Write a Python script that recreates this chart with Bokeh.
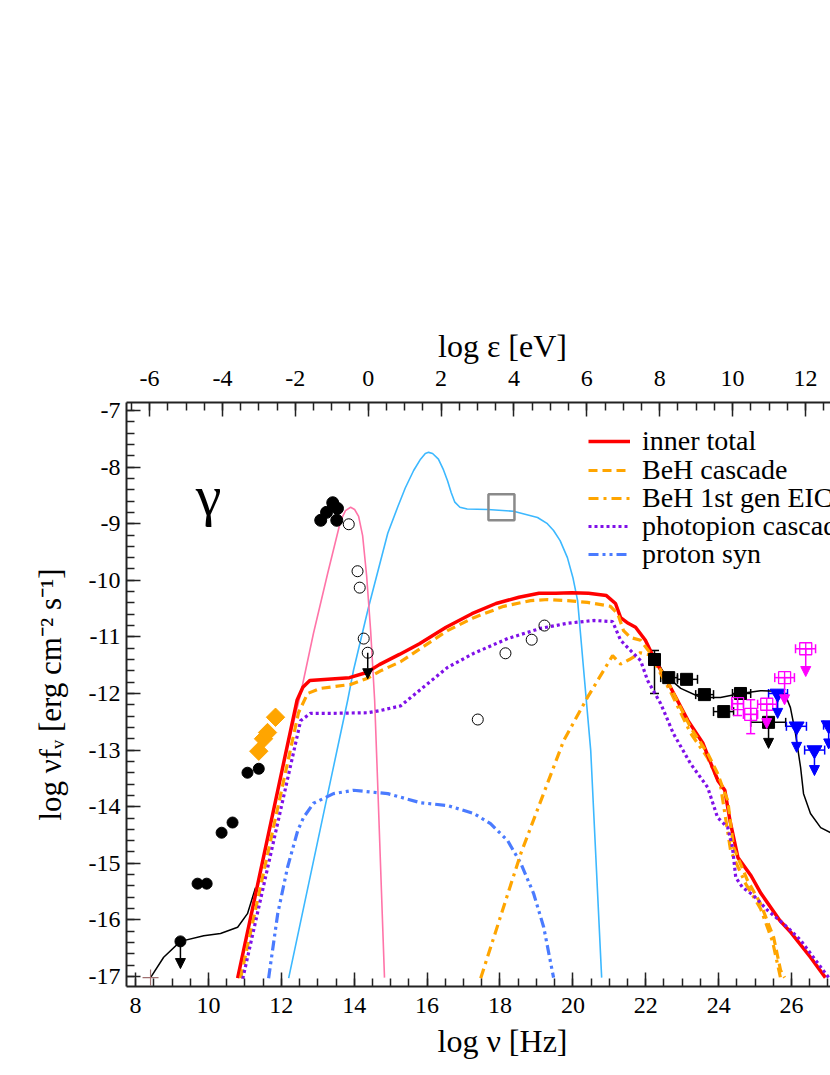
from bokeh.plotting import figure
from bokeh.models import (Range1d, LinearAxis, SingleIntervalTicker, Legend, LegendItem,
                          Arrow, NormalHead, Whisker, TeeHead, ColumnDataSource, Label,
                          CustomJSTickFormatter)
from bokeh.embed import file_html
from bokeh.resources import INLINE
import math

FONT = "Liberation Serif"
LOG_H = -14.383  # log10(h / eV s): log eps = log nu + LOG_H

# ---------------- model curves ----------------
total_x = [10.80, 12.43, 12.59, 12.78, 13.87, 14.34, 14.69, 15.24, 15.79, 16.52, 17.23, 17.89, 18.52, 19.07,
           19.53, 19.97, 20.43, 20.92, 21.17, 21.31, 21.52, 21.72, 21.99, 22.26, 22.62, 23.16, 23.57,
           23.79, 23.98, 24.17, 24.31, 24.53, 24.89, 25.16, 25.68, 25.98, 26.52, 26.93]
total_y = [-17.03, -12.12, -11.89, -11.77, -11.72, -11.63, -11.49, -11.31, -11.12, -10.83, -10.59, -10.41,
           -10.30, -10.23, -10.23, -10.22, -10.23, -10.27, -10.41, -10.66, -10.76, -10.83, -11.06, -11.42,
           -11.82, -12.48, -12.88, -13.24, -13.54, -13.71, -14.24, -14.90, -15.22, -15.53, -16.01, -16.22,
           -16.66, -17.02]

beh_x = [10.88, 12.47, 12.72, 13.08, 13.90, 14.37, 14.72, 15.27, 15.90, 16.56, 17.28, 18.10, 18.84, 19.31,
         19.85, 20.40, 21.03, 21.23, 21.39, 21.58, 21.86, 22.21, 22.68, 23.23, 23.70, 23.97, 24.14, 24.25,
         24.41, 24.79, 25.15, 25.51, 25.70, 25.81]
beh_y = [-17.03, -12.34, -12.00, -11.91, -11.84, -11.73, -11.60, -11.44, -11.17, -10.89, -10.66, -10.46,
         -10.36, -10.34, -10.36, -10.39, -10.46, -10.59, -10.89, -11.01, -11.06, -11.36, -11.89, -12.60,
         -13.06, -13.41, -13.71, -13.89, -14.72, -15.30, -15.71, -16.31, -16.89, -17.02]

eic_x = [17.47, 18.57, 19.75, 20.40, 21.09, 21.31, 21.55, 21.85, 22.13, 22.68, 23.23, 23.70, 24.05, 24.33,
         24.74, 25.15, 25.48, 25.70]
eic_y = [-17.03, -14.83, -12.83, -12.07, -11.33, -11.48, -11.40, -11.28, -11.32, -11.97, -12.70, -13.14,
         -13.62, -14.78, -15.36, -15.80, -16.38, -17.03]

pp_x = [10.94, 12.53, 12.80, 13.43, 14.37, 14.72, 15.27, 15.63, 16.56, 17.28, 18.21, 19.11, 19.85, 20.57,
        21.09, 21.31, 21.58, 21.86, 22.05, 22.41, 22.76, 23.23, 23.70, 23.97, 24.25, 24.38, 24.47, 24.66,
        24.96, 25.34, 25.89, 26.25, 27.02]
pp_y = [-17.04, -12.48, -12.35, -12.35, -12.34, -12.30, -12.22, -12.03, -11.54, -11.29, -11.03, -10.85,
        -10.76, -10.71, -10.73, -11.06, -11.24, -11.42, -11.77, -12.18, -12.71, -13.24, -13.66, -14.19,
        -14.37, -14.72, -15.25, -15.43, -15.57, -15.83, -16.13, -16.36, -17.02]

ps_x = [11.65, 11.90, 12.17, 12.45, 12.61, 12.88, 13.43, 13.98, 14.92, 15.82, 16.56, 17.28, 17.74, 18.21,
        18.57, 18.92, 19.20, 19.47]
ps_y = [-17.03, -15.89, -15.07, -14.42, -14.19, -13.94, -13.77, -13.71, -13.77, -13.93, -13.98, -14.12,
        -14.30, -14.60, -15.00, -15.53, -16.13, -17.02]

pink_x = [12.20, 12.53, 12.88, 13.27, 13.63, 13.76, 13.90, 14.01, 14.12, 14.23, 14.34, 14.45, 14.56,
          14.64, 14.83]
pink_y = [-12.87, -12.00, -10.94, -9.88, -8.94, -8.77, -8.71, -8.75, -8.87, -9.21, -9.92, -10.89, -12.12,
          -13.54, -17.02]

ext_x = [12.20, 13.35, 13.82, 13.98, 14.39, 14.92, 15.19, 15.40, 15.63, 15.82, 15.95, 16.04, 16.15, 16.31,
         16.45, 16.56, 16.66, 16.76, 16.90, 17.10, 17.66, 18.37, 19.03, 19.30, 19.47, 19.65, 19.85, 20.00,
         20.13, 20.29, 20.49, 20.79]
ext_y = [-17.03, -13.54, -12.12, -11.59, -10.48, -9.17, -8.71, -8.37, -8.06, -7.86, -7.76, -7.74, -7.76,
         -7.86, -8.05, -8.24, -8.45, -8.62, -8.71, -8.74, -8.75, -8.78, -8.89, -9.00, -9.12, -9.30, -9.60,
         -9.95, -10.36, -11.54, -13.01, -17.02]

outer_lo_x = [8.41, 8.77, 9.23, 9.87, 10.33, 10.80, 11.07, 11.29]
outer_lo_y = [-17.02, -16.66, -16.38, -16.28, -16.24, -16.13, -15.89, -15.43]
outer_hi_x = [22.05, 22.54, 22.96, 23.51, 24.05, 24.60, 25.15, 25.62, 25.84, 25.97, 26.11, 26.25, 26.33,
              26.52, 26.80, 27.07]
outer_hi_y = [-11.15, -11.68, -11.91, -12.07, -12.07, -12.00, -11.95, -11.96, -12.04, -12.25, -12.71,
              -13.31, -13.77, -14.12, -14.37, -14.46]

# ---------------- data points ----------------
radio_x = [9.70, 9.95, 10.36, 10.66, 11.07, 11.38]
radio_y = [-15.36, -15.36, -14.46, -14.28, -13.40, -13.33]
radio_ul_x = [9.23]
radio_ul_y = [-16.38]
radio_ul_tip = [-16.86]

mm_x = [11.38, 11.51, 11.62, 11.84]
mm_y = [-13.02, -12.80, -12.69, -12.42]

ir_x = [13.08, 13.24, 13.52, 13.41, 13.54]
ir_y = [-8.94, -8.80, -8.94, -8.63, -8.73]

open_x = [13.85, 14.09, 14.15, 14.26, 14.37, 17.39, 18.15, 18.87, 19.22]
open_y = [-9.01, -9.84, -10.13, -11.03, -11.28, -12.46, -11.29, -11.05, -10.80]
open_ul_x = [14.37]
open_ul_y = [-11.28]
open_ul_tip = [-11.74]

box_x = [18.04]
box_y = [-8.71]

lat_x = [22.24, 22.63, 23.12, 23.61, 24.14, 24.60]
lat_y = [-11.40, -11.72, -11.75, -12.02, -12.32, -12.00]
lat_xlo = [22.24, 22.41, 22.87, 23.37, 23.86, 24.38]
lat_xhi = [22.24, 22.87, 23.42, 23.86, 24.41, 24.88]
lat_v_x = [22.24]
lat_v_lo = [-12.00]
lat_v_hi = [-11.24]
lat_ul_x = [25.37]
lat_ul_y = [-12.51]
lat_ul_xlo = [24.88]
lat_ul_xhi = [25.84]
lat_ul_tip = [-12.97]

mag_x = [24.52, 24.88]
mag_y = [-12.18, -12.37]
mag_ylo = [-12.39, -12.71]
mag_yhi = [-12.07, -12.11]
mag_xlo = [24.38, 24.68]
mag_xhi = [24.68, 25.07]
mag_ul_x = [25.32, 25.81, 26.39]
mag_ul_y = [-12.19, -11.72, -11.21]
mag_ul_xlo = [25.07, 25.54, 26.11]
mag_ul_xhi = [25.59, 26.08, 26.66]
mag_ul_tip = [-12.62, -12.20, -11.70]

blu_x = [25.62, 26.14, 26.63, 27.02]
blu_y = [-12.00, -12.58, -13.00, -12.56]
blu_xlo = [25.37, 25.86, 26.36, 26.88]
blu_xhi = [25.89, 26.41, 26.91, 27.40]
blu_tip = [-12.44, -13.04, -13.45, -12.98]

cross_x = [8.41]
cross_y = [-17.02]

legend_labels = ["inner total", "BeH cascade", "BeH 1st gen EIC", "photopion cascade", "proton syn"]

# ---------------- figure ----------------
X0, X1 = 7.75, 27.07
p = figure(width=830, height=1075, x_range=Range1d(X0, X1), y_range=Range1d(-17.177, -6.859),
           output_backend="svg", toolbar_location=None,
           min_border_left=126, min_border_right=0, min_border_top=402, min_border_bottom=89)
p.outline_line_color = None
p.xgrid.visible = False
p.ygrid.visible = False
p.background_fill_color = "white"
p.border_fill_color = "white"

p.extra_x_ranges = {"eps": Range1d(X0 + LOG_H, X1 + LOG_H)}
top = LinearAxis(x_range_name="eps", ticker=SingleIntervalTicker(interval=2, num_minor_ticks=4))
p.add_layout(top, "above")
bottom = p.below[0]
left = p.left[0]

bottom.ticker = SingleIntervalTicker(interval=2, num_minor_ticks=4)
left.ticker = SingleIntervalTicker(interval=1, num_minor_ticks=5)

for ax in [bottom, left, top]:
    ax.formatter = CustomJSTickFormatter(code="return tick.toFixed(0);")
    ax.major_tick_in = 14
    ax.major_tick_out = 0
    ax.minor_tick_in = 8
    ax.minor_tick_out = 0
    ax.axis_line_width = 2
    ax.axis_line_color = "#222222"
    ax.major_tick_line_width = 1.5
    ax.minor_tick_line_width = 1.5
    ax.major_tick_line_color = "#222222"
    ax.minor_tick_line_color = "#222222"
    ax.major_label_text_font = FONT
    ax.major_label_text_font_size = "24px"
    ax.major_label_text_color = "black"
    ax.axis_label_text_font = FONT
    ax.axis_label_text_font_size = "32px"
    ax.axis_label_text_font_style = "normal"
    ax.axis_label_text_color = "black"

bottom.major_label_standoff = 11
top.major_label_standoff = 17
left.major_label_standoff = 6
# en-spaces shift the centred titles right, as in the reference
bottom.axis_label = "\u2002\u2002\u2002log \u03bd [Hz]"
bottom.axis_label_standoff = 7
top.axis_label = "\u2002\u2002\u2002log \u03b5 [eV]"
top.axis_label_standoff = 4
left.axis_label = "log \u03bdf\u1d65 [erg cm\u207b\u00b2 s\u207b\u00b9]"
left.axis_label_text_font_size = "31px"
left.axis_label_standoff = 18

# ---------------- curves ----------------
p.line(ext_x, ext_y, line_color="#3cb8ff", line_width=1.6)
p.line(pink_x, pink_y, line_color="#ff74a8", line_width=1.6)
p.line(outer_lo_x, outer_lo_y, line_color="black", line_width=1.5)
p.line(outer_hi_x, outer_hi_y, line_color="black", line_width=1.5)
r_ps = p.line(ps_x, ps_y, line_color="#4a7bff", line_width=3.2, line_dash="10 4 3 4 3 4")
r_eic = p.line(eic_x, eic_y, line_color="#ffa500", line_width=3.2, line_dash="10 5 3 5")
r_tot = p.line(total_x, total_y, line_color="#ff0000", line_width=3.5)
r_beh = p.line(beh_x, beh_y, line_color="#ffa500", line_width=3.2, line_dash="9 5")
r_pp = p.line(pp_x, pp_y, line_color="#7f10e8", line_width=3.2, line_dash="3 3")

# gray box
p.scatter(box_x, box_y, marker="square", size=26, fill_color=None, line_color="#8a8a8a", line_width=2.5)

# ---------------- error bars & arrows ----------------
def whisk(base, lo, hi, dim, color):
    src = ColumnDataSource(dict(base=base, lo=lo, hi=hi))
    w = Whisker(base="base", lower="lo", upper="hi", dimension=dim, source=src,
                line_color=color, line_width=1.5,
                lower_head=TeeHead(size=9, line_color=color, line_width=1.5),
                upper_head=TeeHead(size=9, line_color=color, line_width=1.5))
    p.add_layout(w)

def arrows(xs, ys, tips, color):
    src = ColumnDataSource(dict(x=xs, y=ys, t=tips))
    a = Arrow(x_start="x", y_start="y", x_end="x", y_end="t", source=src,
              line_color=color, line_width=1.5,
              end=NormalHead(size=10, fill_color=color, line_color=color))
    p.add_layout(a)

whisk(lat_y[1:], lat_xlo[1:], lat_xhi[1:], "width", "black")
whisk(lat_v_x, lat_v_lo, lat_v_hi, "height", "black")
whisk(lat_ul_y, lat_ul_xlo, lat_ul_xhi, "width", "black")
arrows(lat_ul_x, lat_ul_y, lat_ul_tip, "black")
arrows(radio_ul_x, radio_ul_y, radio_ul_tip, "black")
arrows(open_ul_x, open_ul_y, open_ul_tip, "black")

whisk(mag_x, mag_ylo, mag_yhi, "height", "#ff00ff")
whisk(mag_y, mag_xlo, mag_xhi, "width", "#ff00ff")
whisk(mag_ul_y, mag_ul_xlo, mag_ul_xhi, "width", "#ff00ff")
arrows(mag_ul_x, mag_ul_y, mag_ul_tip, "#ff00ff")

whisk(blu_y, blu_xlo, blu_xhi, "width", "#0000ff")
arrows(blu_x, blu_y, blu_tip, "#0000ff")

# ---------------- markers ----------------
p.scatter(cross_x, cross_y, marker="cross", size=16, line_color="#a07070", line_width=1.2)
p.scatter(radio_x + radio_ul_x, radio_y + radio_ul_y, marker="circle", size=11, color="black")
p.scatter(mm_x, mm_y, marker="square", angle=math.pi / 4, size=13, color="#ffa500")
p.scatter(ir_x, ir_y, marker="circle", size=12, color="black")
p.scatter(open_x, open_y, marker="circle", size=11, fill_color="white", fill_alpha=0,
          line_color="black", line_width=1)
p.scatter(lat_x + lat_ul_x, lat_y + lat_ul_y, marker="square", size=12, color="black")
p.scatter(mag_x + mag_ul_x, mag_y + mag_ul_y, marker="square_cross", size=12, fill_alpha=0,
          line_color="#ff00ff", line_width=1.3)
p.scatter(blu_x, blu_y, marker="inverted_triangle", size=15, color="#0000ff")

# ---------------- texts ----------------
p.add_layout(Label(x=10.0, y=-8.50, text="\u03b3", text_font=FONT, text_font_size="58px",
                   text_align="center", text_baseline="middle", text_color="black"))

# one single-row legend per entry, so the rows sit as close as in the reference
row_bottoms = [528, 499, 471, 443, 415]
for lab, rend, yb in zip(legend_labels, [r_tot, r_beh, r_eic, r_pp, r_ps], row_bottoms):
    lg = Legend(items=[LegendItem(label=lab, renderers=[rend])],
                location=(462, yb), border_line_color=None, background_fill_alpha=0,
                padding=0, margin=0, spacing=0, glyph_width=42, glyph_height=34, label_height=34,
                label_standoff=12, label_text_font=FONT, label_text_font_size="28px",
                label_text_color="black")
    p.add_layout(lg)

open("out.html", "w").write(file_html(p, INLINE))
